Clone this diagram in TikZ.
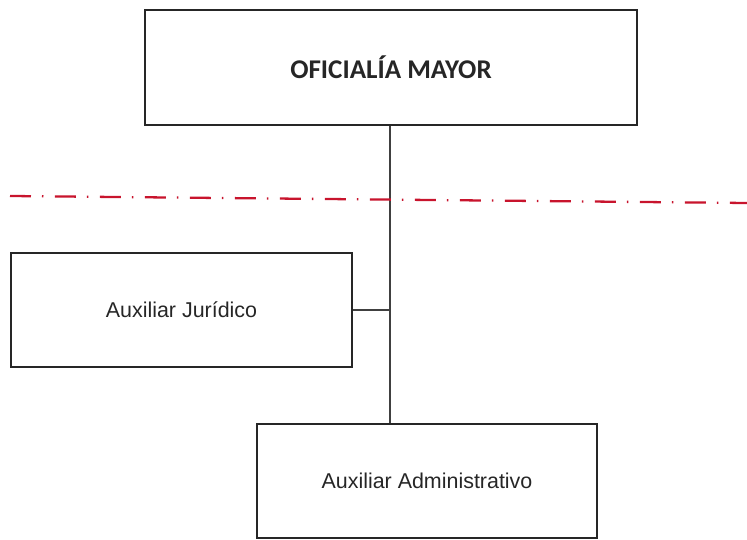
\documentclass[tikz,border=0pt]{standalone}
\usepackage{fontspec}
\setmainfont{Liberation Sans}
\newfontfamily\titlefont{Carlito}
\usetikzlibrary{positioning}
\definecolor{rojolinea}{RGB}{200,20,45}
\tikzset{
    caja/.style={draw=black!85, line width=1.1pt, minimum height=2.28cm, inner sep=0pt, text=black!85},
    enlace/.style={draw=black!75, line width=1.1pt},
    limite/.style={draw=rojolinea, line width=1.3pt,
        dash pattern=on 0.42cm off 0.22cm on 0.03cm off 0.23cm}
}
\begin{document}
\begin{tikzpicture}[x=0.02cm, y=-0.02cm]
        \useasboundingbox (0,0) rectangle (747,540);
        %%%%%%%%%% Nodos %%%%%%%%%%
        \node[caja, minimum width=9.84cm, minimum height=2.3cm, font=\titlefont\bfseries\fontsize{15.4}{18}\selectfont] (oficialia) at (391,67.5) {OFICIALÍA MAYOR};
        \node[caja, minimum width=6.82cm, font=\fontsize{12.2}{14}\selectfont] (juridico) at (181.5,310) {Auxiliar Jurídico};
        \node[caja, minimum width=6.8cm, font=\fontsize{12.2}{14}\selectfont] (administrativo) at (427,481) {Auxiliar Administrativo};
        \coordinate (limiteA) at (10,196);
        \coordinate (limiteB) at (747,203);

        %%%%%%%%% Lineas %%%%%%%%%
        \draw[enlace] ([xshift=-0.02cm]oficialia.south) -- ([xshift=-0.02cm]oficialia.south |- administrativo.north);
        \draw[enlace] (juridico.east) -- (juridico.east -| oficialia.south);
        \draw[limite] (limiteA) -- (limiteB);
    \end{tikzpicture}
\end{document}
